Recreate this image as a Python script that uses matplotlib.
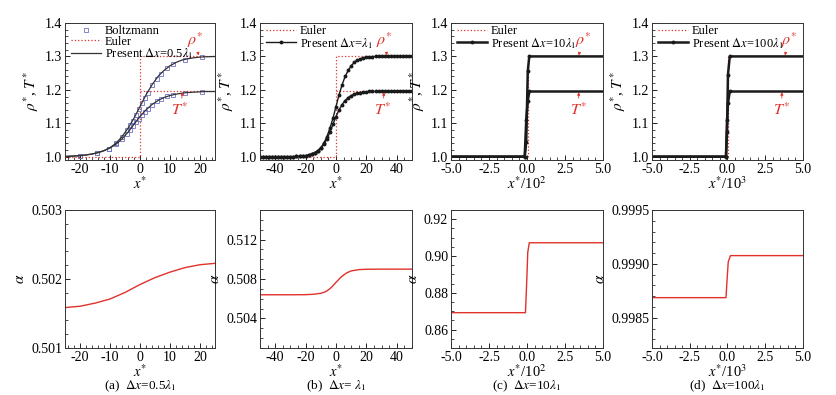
import numpy as np
import matplotlib
matplotlib.use("Agg")
import matplotlib.pyplot as plt
from matplotlib.ticker import AutoMinorLocator, FormatStrFormatter

plt.rcParams['font.family'] = ['Liberation Serif', 'DejaVu Serif']
plt.rcParams['mathtext.fontset'] = 'stix'
plt.rcParams['font.size'] = 9.5
plt.rcParams['axes.unicode_minus'] = False

RED = '#e0322b'
BLUE = '#6c72c4'
BLACK = '#1a1a1a'

# ---- shock profile (present scheme), x* from -50 to 50 step 2 ----
x_prof = [-50, -48, -46, -44, -42, -40, -38, -36, -34, -32, -30, -28, -26, -24, -22, -20,
          -18, -16, -14, -12, -10, -8, -6, -4, -2, 0, 2, 4, 6, 8, 10, 12, 14, 16, 18, 20,
          22, 24, 26, 28, 30, 32, 34, 36, 38, 40, 42, 44, 46, 48, 50]
rho_prof = [1.0, 1.0, 1.0, 1.0, 1.0, 1.0, 1.0, 1.0, 1.0, 1.0, 1.0, 1.0, 1.0005, 1.001, 1.002, 1.003,
            1.005, 1.008, 1.012, 1.018, 1.027, 1.040, 1.060, 1.085, 1.115, 1.150, 1.185, 1.215,
            1.240, 1.258, 1.272, 1.282, 1.289, 1.293, 1.296, 1.298, 1.299, 1.2995, 1.3, 1.3, 1.3,
            1.3, 1.3, 1.3, 1.3, 1.3, 1.3, 1.3, 1.3, 1.3, 1.3]
T_prof = [1.0, 1.0, 1.0, 1.0, 1.0, 1.0, 1.0, 1.0, 1.0, 1.0, 1.0, 1.0, 1.0005, 1.001, 1.002, 1.003,
          1.005, 1.008, 1.012, 1.018, 1.026, 1.037, 1.053, 1.073, 1.097, 1.120, 1.140, 1.156,
          1.168, 1.177, 1.183, 1.187, 1.190, 1.192, 1.193, 1.194, 1.195, 1.195, 1.195, 1.195, 1.195,
          1.195, 1.195, 1.195, 1.195, 1.195, 1.195, 1.195, 1.195, 1.195, 1.195]

# ---- Boltzmann reference (panel a) ----
x_boltz = [-20, -14.5, -10.5, -8, -6, -4.5, -3.5, -2.5, -1.5, -0.5, 0.5, 1.5, 2.5, 4, 5.5, 7, 9, 11, 15, 20.5]
rho_boltz = [1.003, 1.011, 1.024, 1.040, 1.060, 1.079, 1.094, 1.108, 1.125, 1.142, 1.160, 1.176,
             1.192, 1.213, 1.232, 1.248, 1.266, 1.277, 1.290, 1.297]
T_boltz = [1.003, 1.011, 1.023, 1.037, 1.053, 1.069, 1.081, 1.092, 1.103, 1.114, 1.126, 1.135,
           1.144, 1.156, 1.166, 1.174, 1.181, 1.186, 1.191, 1.194]

# ---- coarse grids (panels c, d): x* / 10^2 and x* / 10^3 ----
rho_c_mid = [1.0, 1.045, 1.255, 1.3]
T_c_mid = [1.0, 1.11, 1.167, 1.195]
x_c_mid = [-0.15, -0.05, 0.05, 0.15]
rho_d_mid = [1.0, 1.075, 1.245, 1.3]
T_d_mid = [1.0, 1.11, 1.16, 1.195]
x_d_mid = [-0.1, -0.03, 0.03, 0.15]

# ---- alpha ----
x_alpha_a = [-25, -20, -15, -10, -5, 0, 5, 10, 15, 20, 25]
alpha_a = [0.501586, 0.501605, 0.501650, 0.501710, 0.501805, 0.501920, 0.502020, 0.502100,
           0.502165, 0.502207, 0.502227]
x_alpha_b = [-50, -40, -30, -20, -15, -10, -7, -5, -3, 0, 3, 5, 7, 10, 15, 20, 30, 40, 50]
alpha_b = [0.50640, 0.50640, 0.50640, 0.50641, 0.50645, 0.50655, 0.50670, 0.50690, 0.50715,
           0.50766, 0.50815, 0.50840, 0.50862, 0.50882, 0.50895, 0.50899, 0.50900, 0.50900, 0.50900]
x_alpha_c = [-5.0, -0.1, 0.0, 0.05, 0.15, 5.0]
alpha_c = [0.8692, 0.8692, 0.890, 0.902, 0.9072, 0.9072]
x_alpha_d = [-5.0, -0.1, -0.03, 0.05, 0.2, 5.0]
alpha_d = [0.998687, 0.998687, 0.998850, 0.999020, 0.999077, 0.999077]

fig = plt.figure(figsize=(8.37, 3.95), dpi=100)

lefts = [65, 260, 451, 652]
widths = [150, 152, 152, 151]
W, H = 837, 395
top_axes = [fig.add_axes([l / W, 1 - 160 / H, w / W, 137 / H]) for l, w in zip(lefts, widths)]
bot_axes = [fig.add_axes([l / W, 1 - 348 / H, w / W, 138 / H]) for l, w in zip(lefts, widths)]


def style(ax):
    ax.tick_params(direction='in', which='both', top=False, right=False, labelsize=10, pad=2)
    ax.tick_params(which='major', length=3.5, width=0.6)
    ax.tick_params(which='minor', length=2, width=0.5)
    ax.xaxis.set_minor_locator(AutoMinorLocator())
    ax.yaxis.set_minor_locator(AutoMinorLocator())
    for s in ax.spines.values():
        s.set_linewidth(0.7)
        s.set_color('#333333')


def euler(ax, x0, x1):
    ax.plot([x0, 0, 0, x1], [1.0, 1.0, 1.3, 1.3], ls=':', color=RED, lw=0.9, label='Euler')
    ax.plot([0, x1], [1.195, 1.195], ls=':', color=RED, lw=0.9)


def annotate(ax, xr_text, xr, xt_text, xt):
    arrow = dict(arrowstyle='-|>', color=RED, lw=0.6, mutation_scale=4, shrinkA=1, shrinkB=0)
    ax.annotate(r'$\rho^{*}$', xy=(xr, 1.303), xytext=(xr_text, 1.35),
                color=RED, fontsize=11.5, ha='center', va='center', arrowprops=arrow)
    ax.annotate(r'$T^{*}$', xy=(xt, 1.193), xytext=(xt_text, 1.138),
                color=RED, fontsize=11.5, ha='center', va='center', arrowprops=arrow)


def legend(ax):
    ax.legend(loc='upper left', bbox_to_anchor=(-0.01, 1.04), frameon=False, fontsize=9,
              handlelength=2.4, handletextpad=0.3, labelspacing=-0.1, borderpad=0.1)


# (a)
ax = top_axes[0]
ax.set_xlim(-25, 25)
ax.plot(x_boltz, rho_boltz, ls='none', marker='s', ms=3, mfc='none', mec=BLUE, mew=0.6, label='Boltzmann')
ax.plot(x_boltz, T_boltz, ls='none', marker='s', ms=3, mfc='none', mec=BLUE, mew=0.6)
euler(ax, -25, 25)
ax.plot(x_prof, rho_prof, color='#333333', lw=0.9, label=r'Present $\Delta x$=0.5$\lambda_1$')
ax.plot(x_prof, T_prof, color='#333333', lw=0.9)
ax.set_xticks([-20, -10, 0, 10, 20])
legend(ax)
annotate(ax, 18.5, 19.5, 13.3, 14.2)

# (b)
ax = top_axes[1]
ax.set_xlim(-50, 50)
euler(ax, -50, 50)
ax.plot(x_prof, rho_prof, color=BLACK, lw=1.0, marker='o', ms=1.8, label=r'Present $\Delta x$=$\lambda_1$')
ax.plot(x_prof, T_prof, color=BLACK, lw=1.0, marker='o', ms=1.8)
ax.set_xticks([-40, -20, 0, 20, 40])
legend(ax)
annotate(ax, 32, 33.5, 31, 31.5)

# (c) and (d)
for ax, xm, rm, tm, lab in [(top_axes[2], x_c_mid, rho_c_mid, T_c_mid, r'Present $\Delta x$=10$\lambda_1$'),
                            (top_axes[3], x_d_mid, rho_d_mid, T_d_mid, r'Present $\Delta x$=100$\lambda_1$')]:
    ax.set_xlim(-5, 5)
    ax.plot([0.05, 0.05], [1.0, 1.3], ls=':', color=RED, lw=0.9, label='Euler')
    xs = [-5.0] + xm + [5.0]
    ax.plot(xs, [1.0] + rm + [1.3], color=BLACK, lw=1.8, marker='o', ms=1.8, markevery=[1, 2, 3, 4], label=lab)
    ax.plot(xs, [1.0] + tm + [1.195], color=BLACK, lw=1.8, marker='o', ms=1.8, markevery=[1, 2, 3, 4])
    ax.set_xticks([-5, -2.5, 0, 2.5, 5])
    ax.xaxis.set_major_formatter(FormatStrFormatter('%.1f'))
    legend(ax)

annotate(top_axes[2], 3.7, 3.4, 3.4, 3.4)
annotate(top_axes[3], 4.1, 3.8, 3.6, 3.6)

for i, ax in enumerate(top_axes):
    style(ax)
    ax.set_ylim(0.99, 1.4)
    ax.set_yticks([1.0, 1.1, 1.2, 1.3, 1.4])
    ax.yaxis.set_major_formatter(FormatStrFormatter('%.1f'))
    ax.set_ylabel(r'$\rho^{*}$, $T^{*}$', fontsize=11, labelpad=3)

xl = [r'$x^{*}$', r'$x^{*}$', r'$x^{*}$/10$^2$', r'$x^{*}$/10$^3$']
for ax, lab in zip(top_axes, xl):
    ax.set_xlabel(lab, fontsize=10.5, labelpad=0)

# bottom row
ax = bot_axes[0]
ax.plot(x_alpha_a, alpha_a, color=RED, lw=1.0)
ax.set_xlim(-25, 25)
ax.set_xticks([-20, -10, 0, 10, 20])
ax.set_ylim(0.501, 0.503)
ax.set_yticks([0.501, 0.502, 0.503])
ax.yaxis.set_major_formatter(FormatStrFormatter('%.3f'))

ax = bot_axes[1]
ax.plot(x_alpha_b, alpha_b, color=RED, lw=1.0)
ax.set_xlim(-50, 50)
ax.set_xticks([-40, -20, 0, 20, 40])
ax.set_ylim(0.501, 0.515)
ax.set_yticks([0.504, 0.508, 0.512])
ax.yaxis.set_major_formatter(FormatStrFormatter('%.3f'))

ax = bot_axes[2]
ax.plot(x_alpha_c, alpha_c, color=RED, lw=1.0)
ax.set_xlim(-5, 5)
ax.set_xticks([-5, -2.5, 0, 2.5, 5])
ax.xaxis.set_major_formatter(FormatStrFormatter('%.1f'))
ax.set_ylim(0.85, 0.925)
ax.set_yticks([0.86, 0.88, 0.90, 0.92])
ax.yaxis.set_major_formatter(FormatStrFormatter('%.2f'))

ax = bot_axes[3]
ax.plot(x_alpha_d, alpha_d, color=RED, lw=1.0)
ax.set_xlim(-5, 5)
ax.set_xticks([-5, -2.5, 0, 2.5, 5])
ax.xaxis.set_major_formatter(FormatStrFormatter('%.1f'))
ax.set_ylim(0.99822, 0.9995)
ax.set_yticks([0.9985, 0.9990, 0.9995])
ax.yaxis.set_major_formatter(FormatStrFormatter('%.4f'))

captions = [r'(a)  $\Delta x$=0.5$\lambda_1$', r'(b)  $\Delta x$= $\lambda_1$',
            r'(c)  $\Delta x$=10$\lambda_1$', r'(d)  $\Delta x$=100$\lambda_1$']
for ax, lab, cap in zip(bot_axes, xl, captions):
    style(ax)
    ax.set_xlabel(lab, fontsize=10.5, labelpad=-0.5)
    ax.set_ylabel(r'$\alpha$', fontsize=11, labelpad=3)
    ax.text(0.5, -0.28, cap, transform=ax.transAxes, ha='center', va='center', fontsize=9.5)

fig.savefig('out.png', dpi=100)
